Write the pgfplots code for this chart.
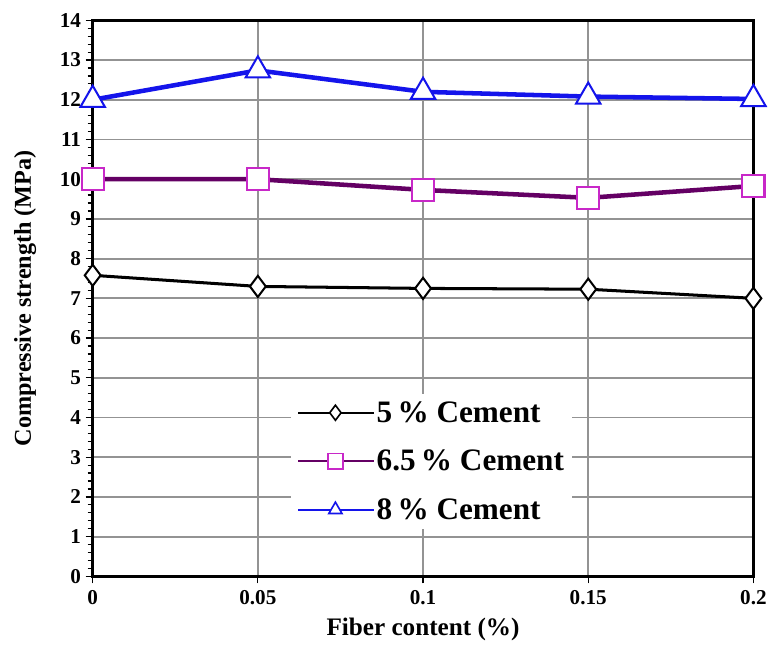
\documentclass[border=0pt]{standalone}
\usepackage{fontspec}
\setmainfont{Liberation Serif}
\usepackage{pgfplots}
\pgfplotsset{compat=1.18}
\definecolor{ptblue}{RGB}{20,20,235}
\definecolor{ptpurple}{RGB}{100,0,100}
\definecolor{ptmag}{RGB}{200,40,200}
\begin{document}
\begin{tikzpicture}
\begin{axis}[
  scale only axis,
  width=656pt, height=552pt,
  xmin=0, xmax=0.2, ymin=0, ymax=14,
  xtick={0,0.05,0.1,0.15,0.2},
  xticklabels={0,0.05,0.1,0.15,0.2},
  ytick={0,1,...,14},
  minor y tick num=4,
  tick align=outside,
  grid=major,
  major grid style={gray!85, line width=1.8pt},
  axis line style={black, line width=2.6pt},
  tick style={black, line width=1.2pt},
  major tick length=7pt, minor tick length=5pt,
  xtick pos=bottom, ytick pos=left,
  /pgf/number format/assume math mode=true,
  tick label style={font=\fontsize{21}{23}\selectfont\bfseries},
  xticklabel style={yshift=-3pt},
  yticklabel style={xshift=-1pt},
  title={\rule{0pt}{1pt}},
  title style={at={(0.5,1)}, anchor=south, inner sep=0pt, yshift=13pt},
  xlabel={Fiber content (\%)},
  ylabel={Compressive strength (MPa)},
  xlabel style={font=\fontsize{25}{27}\selectfont\bfseries, yshift=-7pt},
  ylabel style={font=\fontsize{24}{26}\selectfont\bfseries, inner ysep=14pt, yshift=6pt},
  legend style={at={(0.3,0.085)}, anchor=south west, draw=none, fill=white,
    font=\fontsize{31}{33}\selectfont\bfseries, row sep=22pt, inner sep=6pt},
  legend cell align=left,
  legend image code/.code={
    \draw[#1, line width=2pt, mark size=7.5pt, mark repeat=2, mark phase=2,
      every mark/.append style={line width=1.6pt}]
      plot coordinates {(0pt,0pt) (37pt,0pt) (75pt,0pt)};
  },
]
\addplot[black, line width=3pt, mark=diamond*, mark size=10.5pt,
  mark options={fill=white, line width=2pt, draw=black}]
  coordinates {(0,7.58) (0.05,7.3) (0.1,7.25) (0.15,7.23) (0.2,7.0)};
\addlegendentry{5\,\% Cement}
\addplot[ptpurple, line width=4.5pt, mark=square*, mark size=11pt,
  mark options={fill=white, line width=2pt, draw=ptmag}]
  coordinates {(0,10.0) (0.05,10.0) (0.1,9.73) (0.15,9.53) (0.2,9.83)};
\addlegendentry{6.5\,\% Cement}
\addplot[ptblue, line width=4.5pt, mark=triangle*, mark size=14pt,
  mark options={fill=white, line width=2pt, draw=ptblue}]
  coordinates {(0,12.0) (0.05,12.74) (0.1,12.2) (0.15,12.08) (0.2,12.02)};
\addlegendentry{8\,\% Cement}
\end{axis}
\end{tikzpicture}
\end{document}
